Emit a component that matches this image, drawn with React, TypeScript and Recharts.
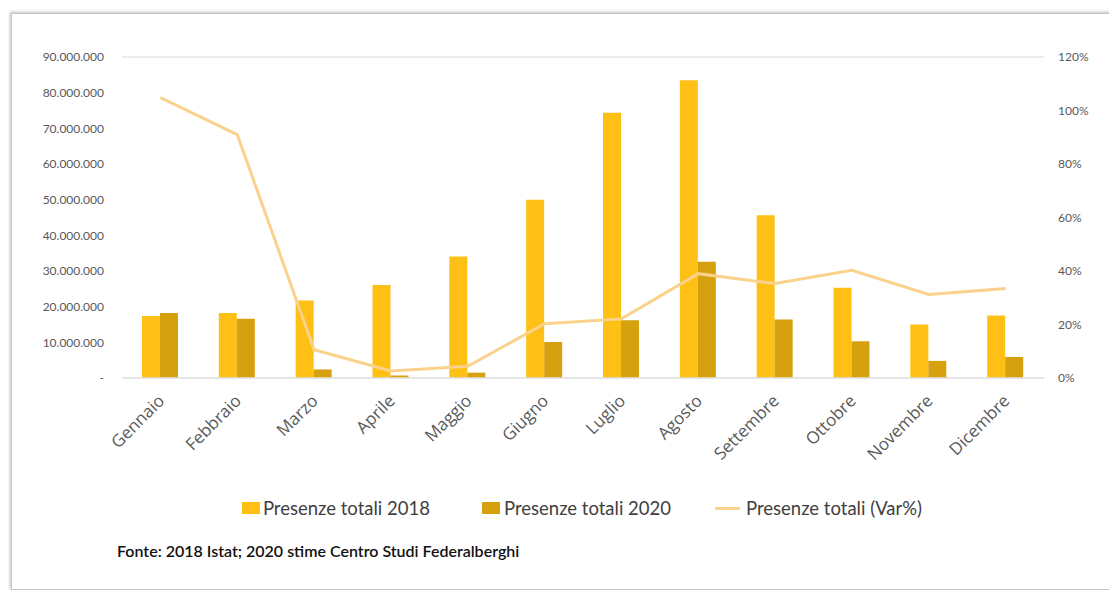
import React from "react";
import { ComposedChart, Bar, Line, XAxis, YAxis, CartesianGrid, Legend } from "recharts";

const months = ["Gennaio","Febbraio","Marzo","Aprile","Maggio","Giugno","Luglio","Agosto","Settembre","Ottobre","Novembre","Dicembre"];
const presenze2018 = [17400000,18200000,21700000,26100000,34100000,50000000,74400000,83500000,45600000,25300000,15000000,17500000];
const presenze2020 = [18200000,16600000,2400000,700000,1500000,10100000,16200000,32600000,16400000,10300000,4800000,5900000];
const varPct = [104.8,91.0,10.6,2.6,4.4,20.3,22.1,39.0,35.3,40.3,31.2,33.5];
const leftTicks = [0,10000000,20000000,30000000,40000000,50000000,60000000,70000000,80000000,90000000];
const rightTicks = [0,20,40,60,80,100,120];

const data = months.map((m, i) => ({ month: m, p2018: presenze2018[i], p2020: presenze2020[i], v: varPct[i] }));

const C2018 = "#FFC015";
const C2020 = "#D6A10E";
const CLINE = "#FAD28C";
const FONT = "Lato, 'Open Sans', sans-serif";

const fmtLeft = (v: number) => (v === 0 ? "-" : v.toLocaleString("de-DE"));

const XTick = (props: any) => {
  const { x, y, payload } = props;
  const ax = x + 5;
  const ay = y + 16;
  return (
    <text x={ax} y={ay} transform={`rotate(-45 ${ax} ${ay})`} textAnchor="end" fill="#595959" fontSize={17} fontFamily="'Open Sans', sans-serif">
      {payload.value}
    </text>
  );
};

const LegendContent = () => (
  <div style={{ height: 24, display: "flex", justifyContent: "center", alignItems: "center", fontFamily: FONT, fontSize: 18.5, color: "#404040", paddingLeft: 30 }}>
    <span style={{ display: "inline-block", width: 18, height: 12, background: C2018, marginRight: 3 }} />
    <span style={{ marginRight: 52 }}>Presenze totali 2018</span>
    <span style={{ display: "inline-block", width: 18, height: 12, background: C2020, marginRight: 4 }} />
    <span style={{ marginRight: 44 }}>Presenze totali 2020</span>
    <span style={{ display: "inline-block", width: 25, height: 3, background: CLINE, marginRight: 6 }} />
    <span>Presenze totali (Var%)</span>
  </div>
);

export default function App() {
  return (
    <div style={{ position: "absolute", left: 0, top: 0, width: 1109, height: 590, background: "#fff", overflow: "hidden" }}>
      <div style={{ position: "absolute", left: 11, top: 13, width: 1120, height: 575, border: "1px solid #c4c4c4", boxShadow: "-1px -1px 3px rgba(0,0,0,0.25)" }} />
      <div style={{ position: "absolute", left: 0, top: 0 }}>
        <ComposedChart width={1109} height={590} data={data} margin={{ top: 57, right: 15, left: 40, bottom: 70 }} barGap={0} barSize={18}>
          <CartesianGrid vertical={false} stroke="#E3E3E3" strokeWidth={1.5} />
          <XAxis dataKey="month" height={118} tick={<XTick />} tickLine={false} axisLine={{ stroke: "#E3E3E3", strokeWidth: 1.5 }} interval={0} />
          <YAxis yAxisId="left" width={82} domain={[0, 90000000]} ticks={leftTicks} tickFormatter={fmtLeft} tick={{ fill: "#595959", fontSize: 12, fontFamily: FONT }} axisLine={false} tickLine={false} tickMargin={12} />
          <YAxis yAxisId="right" orientation="right" width={50} domain={[0, 120]} ticks={rightTicks} tickFormatter={(v: number) => `${v}%`} tick={{ fill: "#595959", fontSize: 12, fontFamily: FONT }} axisLine={false} tickLine={false} tickMargin={8} />
          <Bar yAxisId="left" dataKey="p2018" name="Presenze totali 2018" fill={C2018} isAnimationActive={false} />
          <Bar yAxisId="left" dataKey="p2020" name="Presenze totali 2020" fill={C2020} isAnimationActive={false} />
          <Line yAxisId="right" dataKey="v" name="Presenze totali (Var%)" stroke={CLINE} strokeWidth={3} dot={false} type="linear" isAnimationActive={false} />
          <Legend verticalAlign="bottom" content={<LegendContent />} />
        </ComposedChart>
      </div>
      <div style={{ position: "absolute", left: 117, top: 541, fontFamily: FONT, fontSize: 16, fontWeight: 600, color: "#111" }}>
        Fonte: 2018 Istat; 2020 stime Centro Studi Federalberghi
      </div>
    </div>
  );
}
